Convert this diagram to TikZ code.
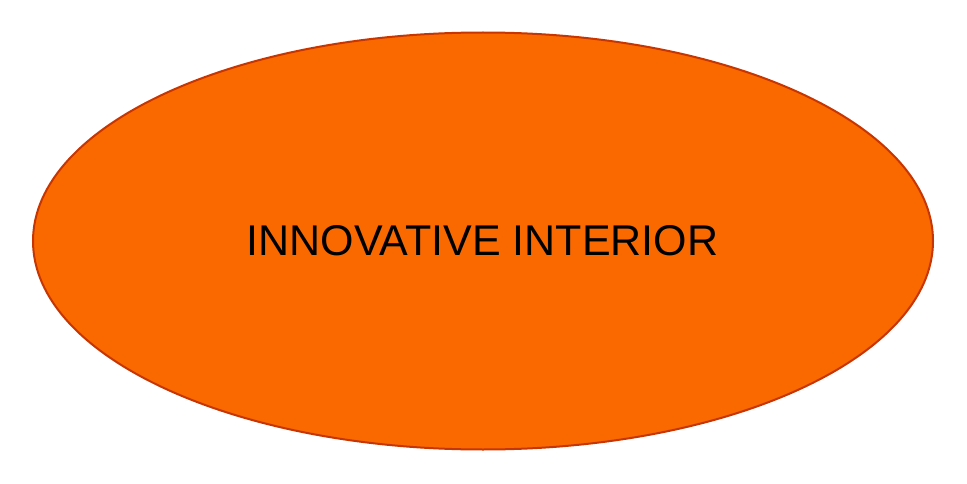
\documentclass[tikz,border=0pt]{standalone}
\usepackage{fontspec}
\setmainfont{Liberation Sans}
\usetikzlibrary{shapes.geometric}
\definecolor{ofill}{RGB}{250,104,0}
\definecolor{oline}{RGB}{199,53,0}
\begin{document}
\begin{tikzpicture}[x=1pt,y=1pt,
  blob/.style={ellipse,draw=oline,fill=ofill,line width=2pt,minimum width=900pt,minimum height=417pt,inner sep=0pt},
  lbl/.style={font=\fontsize{43}{50}\selectfont,text=black,inner sep=0pt,anchor=base}]
\useasboundingbox (0,0) rectangle (967,483);
\node[blob] (e) at (483,242) {};
\node[lbl] (t) at (482.5,228) {INNOVATIVE INTERIOR};
\end{tikzpicture}
\end{document}
